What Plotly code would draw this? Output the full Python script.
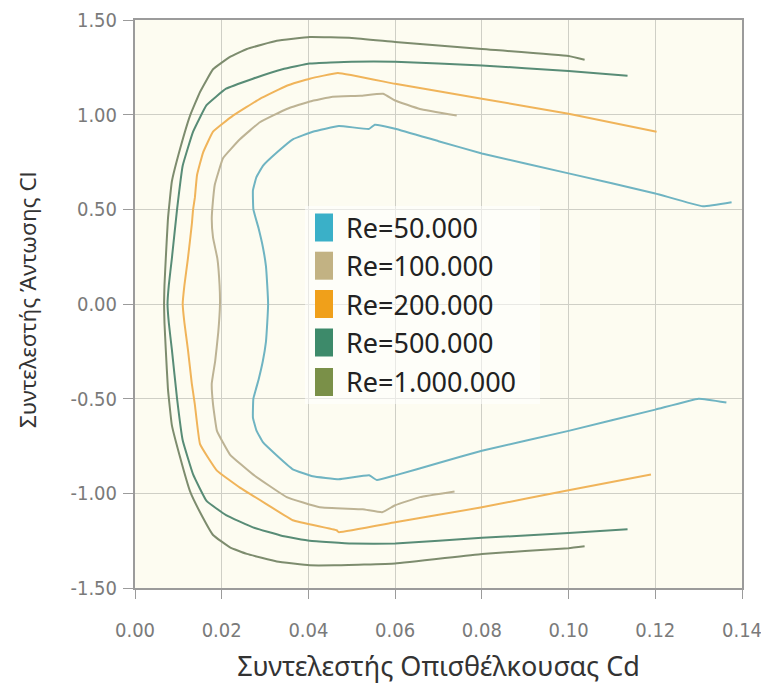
import plotly.graph_objects as go

series_names = ["Re=50.000", "Re=100.000", "Re=200.000", "Re=500.000", "Re=1.000.000"]

# Re = 50.000 (from lower end, around the nose, to upper end)
cd_re50k = [0.1364, 0.1300, 0.1200, 0.1000, 0.0800, 0.0700, 0.0600, 0.0558, 0.0540, 0.0470, 0.0410,
            0.0364, 0.0327, 0.0295, 0.0280, 0.0272, 0.0273, 0.0285, 0.0295, 0.0302, 0.0305,
            0.0307,
            0.0305, 0.0302, 0.0295, 0.0285, 0.0273, 0.0272, 0.0280, 0.0295, 0.0327, 0.0364,
            0.0410, 0.0470, 0.0540, 0.0553, 0.0600, 0.0700, 0.0800, 0.1000, 0.1200, 0.1310, 0.1376]
cl_re50k = [-0.52, -0.50, -0.558, -0.67, -0.775, -0.84, -0.905, -0.93, -0.905, -0.926, -0.91,
            -0.873, -0.80, -0.73, -0.667, -0.60, -0.50, -0.40, -0.30, -0.20, -0.10,
            0.00,
            0.10, 0.20, 0.30, 0.40, 0.50, 0.60, 0.67, 0.73, 0.80, 0.87,
            0.91, 0.94, 0.925, 0.947, 0.926, 0.86, 0.795, 0.69, 0.584, 0.516, 0.537]

# Re = 100.000
cd_re100k = [0.0737, 0.0657, 0.0600, 0.0570, 0.0525, 0.0426, 0.0350, 0.0272, 0.0219, 0.0189, 0.0180,
             0.0177, 0.0185, 0.0192,
             0.0196,
             0.0195, 0.0190, 0.0180, 0.0177, 0.0180, 0.0184, 0.0203, 0.0242, 0.0288, 0.0350,
             0.0403, 0.0456, 0.0520, 0.0572, 0.0600, 0.0657, 0.0742]
cl_re100k = [-0.99, -1.02, -1.063, -1.10, -1.084, -1.074, -1.02, -0.90, -0.795, -0.67, -0.53,
             -0.42, -0.30, -0.15,
             0.00,
             0.10, 0.24, 0.35, 0.45, 0.55, 0.63, 0.77, 0.87, 0.96, 1.03,
             1.07, 1.095, 1.10, 1.11, 1.075, 1.03, 0.995]

# Re = 200.000
cd_re200k = [0.1190, 0.1000, 0.0800, 0.0600, 0.0470, 0.0465, 0.0364, 0.0304, 0.0242, 0.0189, 0.0150,
             0.0138, 0.0131, 0.0122, 0.0114,
             0.0110,
             0.0114, 0.0122, 0.0131, 0.0134, 0.0138, 0.0143, 0.0157, 0.0180, 0.0226, 0.0288,
             0.0350, 0.0403, 0.0468, 0.0600, 0.0800, 0.1000, 0.1203]
cl_re200k = [-0.90, -0.984, -1.074, -1.153, -1.205, -1.195, -1.142, -1.058, -0.97, -0.88, -0.74,
             -0.53, -0.42, -0.24, -0.10,
             0.00,
             0.10, 0.24, 0.42, 0.50, 0.56, 0.68, 0.80, 0.91, 0.995, 1.084,
             1.153, 1.19, 1.22, 1.163, 1.084, 1.005, 0.91]

# Re = 500.000
cd_re500k = [0.1136, 0.1000, 0.0800, 0.0600, 0.0500, 0.0403, 0.0340, 0.0272, 0.0210, 0.0165, 0.0134,
             0.0110, 0.0097, 0.0085, 0.0078,
             0.0075,
             0.0078, 0.0085, 0.0097, 0.0110, 0.0134, 0.0165, 0.0210, 0.0272, 0.0340, 0.0403,
             0.0500, 0.0600, 0.0800, 0.1000, 0.1136]
cl_re500k = [-1.19, -1.21, -1.235, -1.265, -1.265, -1.25, -1.225, -1.18, -1.115, -1.04, -0.90,
             -0.72, -0.50, -0.24, -0.10,
             0.00,
             0.10, 0.24, 0.50, 0.73, 0.91, 1.05, 1.137, 1.19, 1.24, 1.27,
             1.28, 1.28, 1.26, 1.23, 1.205]

# Re = 1.000.000
cd_re1m = [0.1037, 0.1000, 0.0800, 0.0600, 0.0460, 0.0403, 0.0327, 0.0258, 0.0219, 0.0180, 0.0150,
           0.0127, 0.0104, 0.0085, 0.0076, 0.0071, 0.0068,
           0.0067,
           0.0068, 0.0071, 0.0076, 0.0085, 0.0104, 0.0127, 0.0150, 0.0180, 0.0219, 0.0258,
           0.0327, 0.0403, 0.0500, 0.0600, 0.0800, 0.1000, 0.1037]
cl_re1m = [-1.28, -1.29, -1.32, -1.37, -1.38, -1.38, -1.36, -1.32, -1.285, -1.22, -1.10,
           -0.99, -0.81, -0.64, -0.45, -0.24, -0.10,
           0.00,
           0.10, 0.24, 0.45, 0.647, 0.82, 0.995, 1.12, 1.24, 1.305, 1.347,
           1.39, 1.41, 1.405, 1.384, 1.347, 1.31, 1.29]

x_ticks = [0.00, 0.02, 0.04, 0.06, 0.08, 0.10, 0.12, 0.14]
x_tick_labels = ["0.00", "0.02", "0.04", "0.06", "0.08", "0.10", "0.12", "0.14"]
y_ticks = [-1.50, -1.00, -0.50, 0.00, 0.50, 1.00, 1.50]
y_tick_labels = ["-1.50", "-1.00", "-0.50", "0.00", "0.50", "1.00", "1.50"]

x_title = "Συντελεστής Οπισθέλκουσας Cd"
y_title = "Συντελεστής Άντωσης Cl"

line_colors = ["#6fb4c2", "#bdb394", "#f0b45a", "#588c76", "#7d8c6e"]
swatch_colors = ["#3ab0c8", "#c2b283", "#f0a01a", "#3d8a6a", "#7a9048"]

cd_all = [cd_re50k, cd_re100k, cd_re200k, cd_re500k, cd_re1m]
cl_all = [cl_re50k, cl_re100k, cl_re200k, cl_re500k, cl_re1m]

fig = go.Figure()
for name, cd, cl, col in zip(series_names, cd_all, cl_all, line_colors):
    fig.add_trace(go.Scatter(x=cd, y=cl, mode="lines", name=name,
                             line=dict(color=col, width=2, shape="spline", smoothing=0.3),
                             showlegend=False))

# The page body has an 8px margin: size the figure so it fits the 769x692 window.
OFF = 8
W, H = 769 - OFF, 692 - 2 * OFF
L = dict(l=135 - OFF, r=W - (742 - OFF), t=20 - OFF, b=H - (588 - OFF))
pw, ph = W - L["l"] - L["r"], H - L["t"] - L["b"]

def px2paper(xp, yp):
    # screen pixel -> paper coordinate
    return (xp - OFF - L["l"]) / pw, (H - L["b"] - (yp - OFF)) / ph

shapes = []
annotations = []
bx0, by0 = px2paper(305, 206)
bx1, by1 = px2paper(540, 404)
shapes.append(dict(type="rect", xref="paper", yref="paper", x0=bx0, y0=by1, x1=bx1, y1=by0,
                   fillcolor="rgba(255,255,255,0.55)", line=dict(width=0), layer="above"))
centers = [227.5, 265.7, 304, 342.5, 382]
for name, col, cy in zip(series_names, swatch_colors, centers):
    x0, y0 = px2paper(315, cy - 14)
    x1, y1 = px2paper(333, cy + 14)
    shapes.append(dict(type="rect", xref="paper", yref="paper", x0=x0, y0=y1, x1=x1, y1=y0,
                       fillcolor=col, line=dict(width=0), layer="above"))
    tx, ty = px2paper(344, cy)
    annotations.append(dict(xref="paper", yref="paper", x=tx, y=ty, text=name, showarrow=False,
                            xanchor="left", yanchor="middle",
                            font=dict(family="Noto Sans", size=27, color="#222222")))

# y-axis title placed as rotated text
yt_x, yt_y = px2paper(27, 300)
annotations.append(dict(xref="paper", yref="paper", x=yt_x, y=yt_y, text=y_title, showarrow=False,
                        textangle=-90, xanchor="center", yanchor="middle",
                        font=dict(family="Noto Sans", size=22.5, color="#333333")))

tick_font = dict(family="DejaVu Sans Condensed", size=20, color="#7a7a7a")

fig.update_layout(
    width=W, height=H,
    margin=L,
    paper_bgcolor="white",
    plot_bgcolor="#fdfcf1",
    shapes=shapes,
    annotations=annotations,
    xaxis=dict(range=[0, 0.14], tickvals=x_ticks, ticktext=x_tick_labels,
               automargin=False, ticklabeloverflow="allow",
               showgrid=True, gridcolor="#cfcfc6", gridwidth=1,
               showline=True, linecolor="#9b9b9b", linewidth=2, mirror=True,
               ticks="outside", ticklen=9, tickcolor="#9b9b9b",
               ticklabelstandoff=14,
               tickfont=tick_font,
               title=dict(text=x_title, standoff=22,
                          font=dict(family="Noto Sans", size=27, color="#333333")),
               zeroline=False),
    yaxis=dict(range=[-1.5, 1.5], tickvals=y_ticks, ticktext=y_tick_labels,
               automargin=False, ticklabeloverflow="allow",
               showgrid=True, gridcolor="#cfcfc6", gridwidth=1,
               showline=True, linecolor="#9b9b9b", linewidth=2, mirror=True,
               ticks="outside", ticklen=10, tickcolor="#9b9b9b",
               ticklabelstandoff=2,
               tickfont=tick_font,
               zeroline=False),
)

fig.write_html("out.html")
